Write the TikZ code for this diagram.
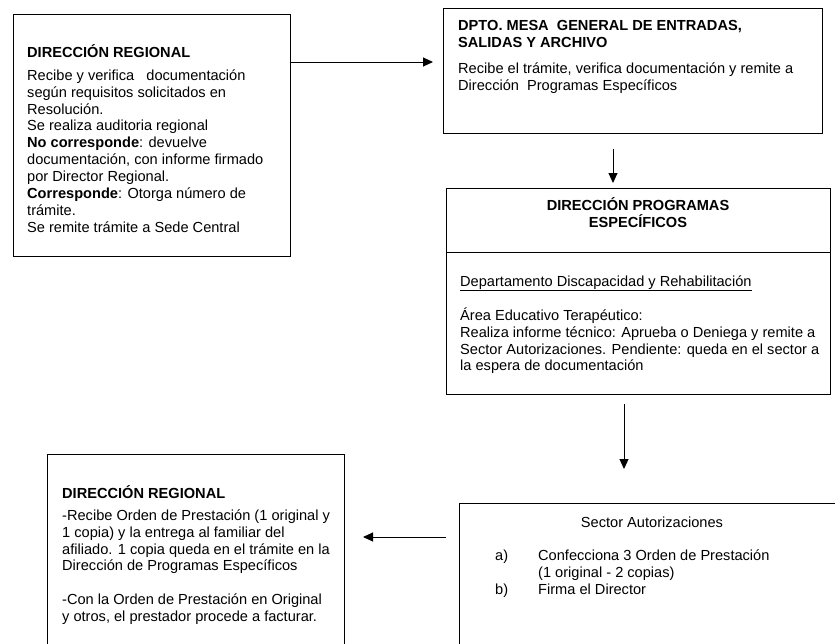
\documentclass[tikz,border=0pt]{standalone}
\usepackage{fontspec}
\setmainfont{Liberation Sans}
\usetikzlibrary{arrows.meta,calc}
\newcommand\myfs{\fontsize{14.6}{16.9}\selectfont}
\newcommand\st{\rule{0pt}{13.5pt}}
\begin{document}
\begin{tikzpicture}[x=1pt,y=-1pt,
  box/.style={draw=black,line width=1pt,anchor=north west,inner sep=0pt,outer sep=0pt},
  txt/.style={anchor=north west,inner sep=0pt,align=left,font=\myfs},
  ctxt/.style={anchor=north,inner sep=0pt,align=center,font=\myfs},
  arr/.style={line width=1pt,-{Triangle[length=10pt,width=9pt]}}]
\useasboundingbox (0,0) rectangle (835,643);
\clip (0,0) rectangle (835,643);
% boxes
\node[box,minimum width=277pt,minimum height=242pt] (A) at (13,14) {};
\node[box,minimum width=379pt,minimum height=125pt] (B) at (443,8) {};
\node[box,minimum width=384pt,minimum height=206pt] (C) at (446,188) {};
\node[box,minimum width=400pt,minimum height=200pt] (D) at (459,503) {};
\node[box,minimum width=297pt,minimum height=250pt] (E) at (47,454) {};
\draw[line width=1pt] ($(C.north west)+(0,64)$) -- ($(C.north east)+(0,64)$);
% box A text
\node[txt] (Ah) at (27,43.5) {\st\bfseries DIRECCIÓN REGIONAL};
\node[txt] (Ab) at (27,66.5) {\st Recibe y verifica\ \ \ documentación\\
según requisitos solicitados en\\
Resolución.\\
Se realiza auditoria regional\\
\textbf{No corresponde}: devuelve\\
documentación, con informe firmado\\
por Director Regional.\\
\textbf{Corresponde}: Otorga número de\\
trámite.\\
Se remite trámite a Sede Central};
% box B text
\node[txt] (Bh) at (458,16.5) {\st\bfseries DPTO. MESA\ \ GENERAL DE ENTRADAS,\\\bfseries SALIDAS Y ARCHIVO};
\node[txt] (Bb) at (458,59.5) {\st Recibe el trámite, verifica documentación y remite a\\
Dirección\ \ Programas Específicos};
% box C text
\node[ctxt] (Ch) at (638,196.5) {\st\bfseries DIRECCIÓN PROGRAMAS\\\bfseries ESPECÍFICOS};
\node[txt] (Cd) at (460,272.5) {\st\underline{Departamento Discapacidad y Rehabilitación}};
\node[txt] (Cb) at (460,306.5) {\st Área Educativo Terapéutico:\\
Realiza informe técnico: Aprueba o Deniega y remite a\\
Sector Autorizaciones. Pendiente: queda en el sector a\\
la espera de documentación};
% box D text
\node[ctxt] (Dh) at (652,513.5) {\st Sector Autorizaciones};
\node[txt] (Da) at (495,546.5) {\st a)};
\node[txt] (Dat) at (538,546.5) {\st Confecciona 3 Orden de Prestación\\
(1 original - 2 copias)};
\node[txt] (Db) at (495,580.5) {\st b)};
\node[txt] (Dbt) at (538,580.5) {\st Firma el Director};
% box E text
\node[txt] (Eh) at (62,484.5) {\st\bfseries DIRECCIÓN REGIONAL};
\node[txt] (Eb) at (62,506.5) {\st -Recibe Orden de Prestación (1 original y\\
1 copia) y la entrega al familiar del\\
afiliado. 1 copia queda en el trámite en la\\
Dirección de Programas Específicos};
\node[txt] (Ec) at (62,590.5) {\st -Con la Orden de Prestación en Original\\
y otros, el prestador procede a facturar.};
% arrows
\draw[arr] ($(A.north east)+(0,48)$) -- ($(B.north west)+(-10,54)$);
\draw[arr] ($(B.south west)+(170,16)$) -- ($(C.north west)+(167,-5)$);
\draw[arr] ($(C.south west)+(178,10)$) -- ($(D.north west)+(165,-34)$);
\draw[arr] ($(D.north west)+(-13,34)$) -- ($(E.north east)+(19,83)$);
\end{tikzpicture}
\end{document}
